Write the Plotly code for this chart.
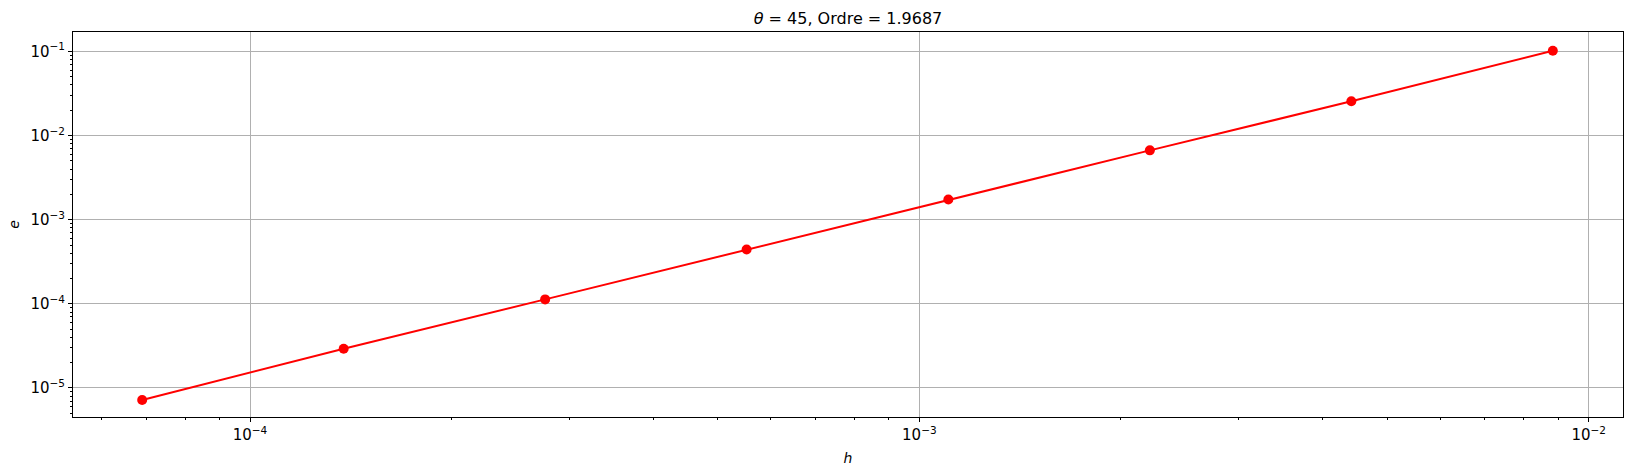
import plotly.graph_objects as go

h_values = [6.9e-5, 1.38e-4, 2.76e-4, 5.52e-4, 1.105e-3, 2.21e-3, 4.42e-3, 8.84e-3]
e_values = [7.2e-6, 2.93e-5, 1.13e-4, 4.42e-4, 1.74e-3, 6.68e-3, 2.56e-2, 1.02e-1]

x_major = [1e-4, 1e-3, 1e-2]
x_major_text = ["10<sup>−4</sup>", "10<sup>−3</sup>", "10<sup>−2</sup>"]
y_major = [1e-5, 1e-4, 1e-3, 1e-2, 1e-1]
y_major_text = ["10<sup>−5</sup>", "10<sup>−4</sup>", "10<sup>−3</sup>", "10<sup>−2</sup>", "10<sup>−1</sup>"]

x_minor = [m * 10.0 ** p for p in (-5, -4, -3, -2) for m in range(2, 10)]
y_minor = [m * 10.0 ** p for p in (-6, -5, -4, -3, -2, -1) for m in range(2, 10)]

font = "DejaVu Sans"

fig = go.Figure()
fig.add_trace(go.Scatter(
    x=h_values, y=e_values, mode="lines+markers",
    line=dict(color="#ff0000", width=2),
    marker=dict(color="#ff0000", size=10),
    showlegend=False,
))

axis_common = dict(
    type="log",
    automargin=False,
    showline=True, linecolor="black", linewidth=1, mirror=True,
    ticks="outside", ticklen=4, tickwidth=1, tickcolor="black",
    showgrid=True, gridcolor="#b0b0b0", gridwidth=0.8,
    zeroline=False,
    tickfont=dict(family=font, size=15, color="black"),
)

fig.update_xaxes(
    **axis_common,
    range=[-4.2645, -1.9487],
    tickmode="array", tickvals=x_major, ticktext=x_major_text,
    minor=dict(tickmode="array", tickvals=x_minor, ticks="outside", ticklen=2,
               tickwidth=0.8, tickcolor="black", showgrid=False),
    title=dict(text="<i>h</i>", font=dict(family=font, size=14, color="black"), standoff=10),
)
fig.update_yaxes(
    **axis_common,
    range=[-5.345, -0.768],
    tickmode="array", tickvals=y_major, ticktext=y_major_text,
    minor=dict(tickmode="array", tickvals=y_minor, ticks="outside", ticklen=2,
               tickwidth=0.8, tickcolor="black", showgrid=False),
    title=dict(text="<i>e</i>", font=dict(family=font, size=14, color="black"), standoff=7),
)

fig.update_layout(
    width=1632, height=476,
    margin=dict(l=73, r=9, t=32, b=59, autoexpand=False),
    paper_bgcolor="white", plot_bgcolor="white",
    title=dict(text="<i>θ</i> = 45, Ordre = 1.9687", x=(73 + 1623) / 2 / 1632, xanchor="center",
               y=1 - 18 / 476, yanchor="middle", yref="container",
               font=dict(family=font, size=16, color="black")),
    font=dict(family=font),
)

fig.write_html("out.html", config={"displayModeBar": False},
               post_script="document.body.style.margin='0';document.body.style.overflow='hidden';")
